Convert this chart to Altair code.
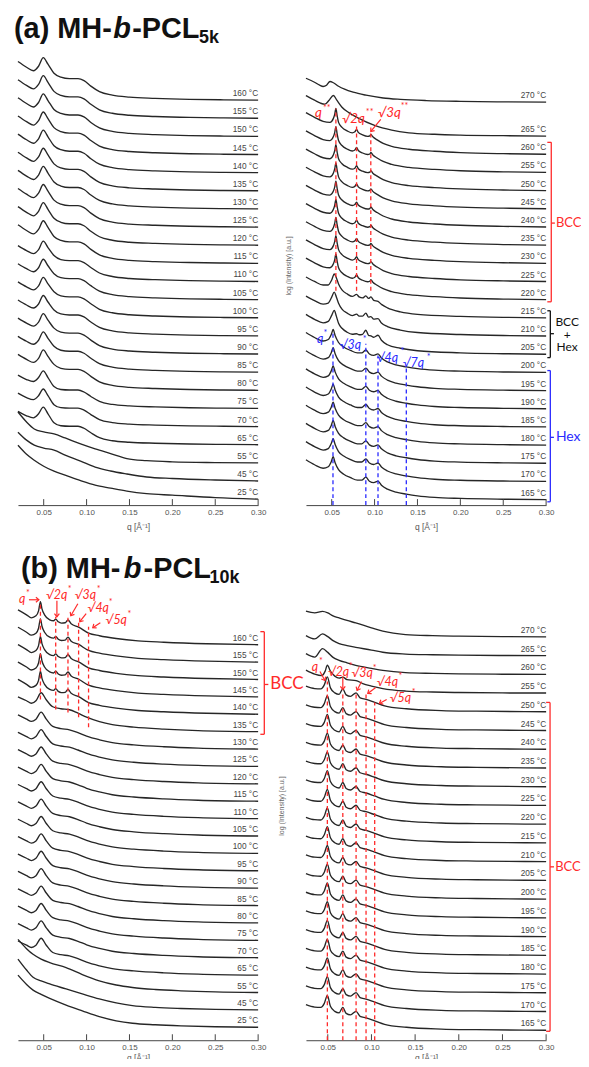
import altair as alt
import pandas as pd

# ======================= DATA =======================
TICKS = [0.05, 0.10, 0.15, 0.20, 0.25, 0.30]

# ---------- (a) MH-b-PCL5k, left panel ----------
AL_TEMPS = [160, 155, 150, 145, 140, 135, 130, 125, 120, 115, 110, 105, 100, 95, 90, 85, 80, 75, 70, 65, 55, 45, 25]
AL_SHAPE = ["hi"] * 10 + ["mid"] * 7 + ["lo"] * 3 + ["m55", "m45", "m25"]
AL_Q = [0.02, 0.03, 0.038, 0.044, 0.0495, 0.055, 0.062, 0.07, 0.08, 0.09, 0.097, 0.105, 0.115, 0.13, 0.15, 0.18, 0.22, 0.26, 0.30]
AL_H_HI = [38.7, 33, 29.5, 34, 42.7, 36, 27, 23, 21.5, 21.5, 19.5, 14, 8.5, 5, 3, 1.8, 0.8, 0.3, 0]
AL_H_MID = [36, 31, 28, 32, 40.5, 34, 26, 22, 21, 21, 19, 14, 8.5, 5, 3, 1.8, 0.8, 0.3, 0]
AL_H_LO = [33.5, 29, 27, 31, 37.7, 31, 22, 19, 18.5, 18.5, 16.5, 12, 7, 4, 2.5, 1.5, 0.7, 0.3, 0]
AL_QM = [0.02, 0.03, 0.039, 0.05, 0.062, 0.075, 0.093, 0.11, 0.128, 0.147, 0.17, 0.2, 0.25, 0.30]
AL_H_55 = [51, 41, 34, 31, 29, 25, 19, 14, 9.3, 4.3, 2.2, 1, 0.3, 0]
AL_H_45 = [49, 41, 36, 33, 31, 26, 20, 14, 10, 7, 4, 2.5, 1, 0]
AL_H_25 = [54, 45, 39, 33, 28, 24, 18.5, 14, 11, 8, 5.5, 4, 1.5, 0]

# ---------- (a) right panel ----------
AR_TEMPS = [270, 265, 260, 255, 250, 245, 240, 235, 230, 225, 220, 215, 210, 205, 200, 195, 190, 185, 180, 175, 170, 165]
AR_SHAPE = ["r270", "r265"] + ["bcc"] * 9 + ["m215", "m210", "m205"] + ["hex"] * 8
AR_Q_270 = [0.02, 0.03, 0.036, 0.04, 0.044, 0.048, 0.052, 0.058, 0.065, 0.075, 0.09, 0.11, 0.13, 0.16, 0.2, 0.25, 0.3]
AR_H_270 = [24, 20, 17, 15.7, 17, 20.7, 19.5, 16, 13, 10, 7, 4.2, 2.8, 1.6, 0.8, 0.3, 0]
AR_Q_265 = [0.02, 0.03, 0.037, 0.042, 0.047, 0.052, 0.056, 0.062, 0.07, 0.08, 0.1, 0.12, 0.14, 0.17, 0.2, 0.25, 0.3]
AR_H_265 = [40.7, 36, 33, 32, 36, 40.7, 36, 29, 23.5, 18.5, 10.7, 6, 3.3, 1.8, 1, 0.4, 0]
AR_Q_BCC = [0.02, 0.03, 0.04, 0.048, 0.052, 0.0535, 0.0549, 0.0563, 0.058, 0.062, 0.068, 0.074, 0.077, 0.079, 0.081,
            0.086, 0.092, 0.0945, 0.0957, 0.098, 0.103, 0.11, 0.12, 0.14, 0.17, 0.2, 0.25, 0.3]
AR_H_BCC = [41.7, 37, 33, 32, 36, 40, 46, 39, 32, 27, 23.5, 21.5, 22.5, 25, 22,
            19.5, 18, 18.5, 20, 17.5, 14.5, 11, 8, 5, 3, 1.7, 0.6, 0]
AR_Q_MIX = [0.02, 0.03, 0.04, 0.046, 0.05, 0.053, 0.0555, 0.058, 0.062, 0.068, 0.074, 0.079, 0.082, 0.086, 0.0898,
            0.093, 0.0957, 0.099, 0.104, 0.108, 0.115, 0.13, 0.15, 0.2, 0.25, 0.3]
AR_H_215 = [41, 36.5, 33, 33, 38, 44, 40, 34, 28, 24, 21.5, 23.5, 21, 20, 22,
            19.5, 21, 17.5, 16.5, 13.5, 10, 6, 3.5, 1.5, 0.5, 0]
AR_H_210 = [40, 35.5, 32, 33, 39, 44, 39, 33, 27, 23, 20.5, 22, 20, 20, 23,
            19, 19.5, 17, 17.5, 13, 9.5, 6, 3.5, 1.5, 0.5, 0]
AR_H_205 = [40, 35, 31.5, 33, 39, 44, 38, 31, 26, 22, 20, 20.5, 19.5, 20, 24,
            19, 18.5, 17, 19, 14, 9.5, 6, 3.5, 1.4, 0.5, 0]
AR_Q_HEX = [0.02, 0.03, 0.04, 0.046, 0.0495, 0.0517, 0.054, 0.058, 0.064, 0.072, 0.08, 0.085, 0.0898, 0.094,
            0.099, 0.104, 0.108, 0.115, 0.125, 0.137, 0.15, 0.17, 0.2, 0.25, 0.3]
AR_H_HEX = [40, 35, 31.5, 33, 38, 43, 37, 30, 25.5, 22, 19.5, 19.5, 22.5, 18.5,
            17, 18.5, 14.5, 10.5, 7.5, 5.5, 3.8, 2.2, 1.2, 0.4, 0]

# ---------- (b) MH-b-PCL10k, left panel ----------
BL_TEMPS = [160, 155, 150, 145, 140, 135, 130, 125, 120, 115, 110, 105, 100, 95, 90, 85, 80, 75, 70, 65, 55, 45, 25]
BL_SHAPE = ["bcc"] * 5 + ["b135"] + ["norm"] * 14 + ["m55", "m45", "m25"]
BL_Q_BCC = [0.02, 0.03, 0.0357, 0.041, 0.044, 0.0462, 0.048, 0.051, 0.057, 0.0615, 0.064, 0.067, 0.0706, 0.075,
            0.0783, 0.082, 0.0907, 0.1023, 0.115, 0.1345, 0.16, 0.19, 0.24, 0.3]
BL_H_BCC = [35, 30, 27, 29, 34, 43.3, 36, 30, 25, 24, 25.7, 23, 21.7, 22,
            25, 21, 17.7, 11.7, 9, 6.2, 3.8, 2.5, 1, 0]
BL_Q_N = [0.02, 0.03, 0.0357, 0.041, 0.047, 0.053, 0.0606, 0.07, 0.08, 0.09, 0.1, 0.115, 0.13, 0.155, 0.19, 0.23, 0.3]
BL_H_135 = [35, 31, 28.5, 31, 39, 32, 25, 23, 22, 18.5, 14.5, 10, 7, 4.5, 2.5, 1, 0]
BL_H_N = [34.3, 30, 27.7, 30, 37, 30, 22.7, 20.5, 19.3, 16.5, 13, 9.3, 6.5, 4.2, 2.3, 1, 0]
BL_QM = [0.02, 0.03, 0.0376, 0.047, 0.057, 0.0761, 0.095, 0.1148, 0.1345, 0.1535, 0.18, 0.21, 0.25, 0.30]
BL_H_55 = [53.3, 44, 38.3, 33.5, 30, 25, 18, 11.7, 7.5, 5, 3, 1.7, 0.6, 0]
BL_H_45 = [51, 40, 32.7, 29, 26, 21, 16, 11, 7, 4.3, 2.5, 1.4, 0.5, 0]
BL_H_25 = [52.3, 43, 37.3, 33, 29, 22.3, 16.5, 10.7, 6.5, 4, 2.5, 1.4, 0.5, 0]

# ---------- (b) right panel ----------
BR_TEMPS = [270, 265, 260, 255, 250, 245, 240, 235, 230, 225, 220, 215, 210, 205, 200, 195, 190, 185, 180, 175, 170, 165]
BR_SHAPE = ["r270", "r265", "r260", "r255"] + ["bcc"] * 18
BR_Q_HI = [0.025, 0.035, 0.044, 0.05, 0.056, 0.063, 0.072, 0.082, 0.1, 0.113, 0.139, 0.17, 0.2, 0.25, 0.3]
BR_H_270 = [25.7, 24, 25.5, 24, 21, 19, 16.5, 14, 9, 5.7, 2.3, 1.2, 0.7, 0.2, 0]
BR_H_265 = [20, 16.7, 21.7, 19, 15, 12, 10, 8.3, 5.5, 3.3, 1.5, 0.8, 0.4, 0.1, 0]
BR_H_260 = [20.7, 17.3, 25.7, 22, 17, 14, 11.5, 9, 6, 4, 1.7, 0.9, 0.4, 0.1, 0]
BR_Q_255 = [0.025, 0.035, 0.043, 0.047, 0.0495, 0.053, 0.058, 0.063, 0.0672, 0.072, 0.0824, 0.09, 0.1, 0.113, 0.139, 0.17, 0.2, 0.25, 0.3]
BR_H_255 = [23, 19, 17.5, 22, 28, 22, 17, 15, 16, 13.5, 12.5, 9.5, 7, 4.5, 2, 1, 0.5, 0.1, 0]
BR_Q_BCC = [0.025, 0.035, 0.042, 0.046, 0.0495, 0.053, 0.058, 0.063, 0.0672, 0.071, 0.076, 0.0824, 0.087, 0.0938,
            0.1037, 0.115, 0.14, 0.18, 0.22, 0.3]
BR_H_BCC = [25.7, 23.3, 23, 27, 35, 24, 19, 17.5, 23, 17, 15.5, 19, 14, 12.5,
            9.5, 6, 3, 1.2, 0.6, 0]

# ---------- annotations (q in Å^-1, height in a.u.) ----------
AR_RED_LINES_Q = [0.0549, 0.079, 0.0956]
AR_RED_LINES_TOP = [398, 380, 375]
AR_RED_LINES_BOT = [215, 215, 215]
AR_BLUE_LINES_Q = [0.0515, 0.0898, 0.104, 0.137]
AR_BLUE_LINES_TOP = [173, 162, 150, 138]
AR_RED_TXT = ["q", "√2q", "√3q"]
AR_RED_TXT_Q = [0.0305, 0.0619, 0.1037]
AR_RED_TXT_Y = [389, 383, 389]
AR_RED_SUP_Q = [0.0398, 0.0898, 0.1305]
AR_RED_SUP_Y = [395, 391, 397]
AR_RED_SUP = ["**", "**", "**"]
AR_BLUE_TXT = ["q", "√3q", "√4q", "√7q"]
AR_BLUE_TXT_Q = [0.0328, 0.0595, 0.1026, 0.1328]
AR_BLUE_TXT_Y = [163, 157, 144, 139]
AR_BLUE_SUP_Q = [0.0404, 0.0863, 0.1305, 0.1607]
AR_BLUE_SUP_Y = [170, 164, 152, 146]
AR_ARROW = [(0.1072, 387, 0.0956, 375, 220)]

BL_LINES_Q = [0.0462, 0.064, 0.0783, 0.0907, 0.1023]
BL_LINES_TOP = [439, 425, 424, 419, 415]
BL_LINES_BOT = [342, 332, 329, 324, 314]
BL_TXT = ["q", "√2q", "√3q", "√4q", "√5q"]
BL_TXT_Q = [0.0212, 0.0526, 0.0863, 0.1012, 0.1222]
BL_TXT_Y = [439, 443, 443, 430, 418]
BL_SUP_Q = [0.0293, 0.0781, 0.1119, 0.1257, 0.1477]
BL_SUP_Y = [446, 450, 450, 437, 425]
BL_ARROW = [  # q_from, y_from, q_to, y_to, angle
    (0.0328, 442, 0.0444, 442, 90),
    (0.0654, 441, 0.0654, 425, 180),
    (0.0898, 438, 0.0816, 426, 210),
    (0.0995, 428, 0.0921, 420, 217),
    (0.1160, 419, 0.1072, 414, 235),
]

BR_LINES_Q = [0.0495, 0.0672, 0.0824, 0.0938, 0.1037]
BR_LINES_TOP = [360, 350, 350, 349, 339]
BR_TXT = ["q", "√2q", "√3q", "√4q", "√5q"]
BR_TXT_Q = [0.0315, 0.0501, 0.0772, 0.1060, 0.1209]
BR_TXT_Y = [371, 366, 364, 355, 339]
BR_SUP_Q = [0.0398, 0.0741, 0.1015, 0.1311, 0.1460]
BR_SUP_Y = [378, 373, 371, 362, 346]
BR_ARROW = [
    (0.0410, 370, 0.0467, 361, 151),
    (0.0672, 365, 0.0672, 352, 180),
    (0.0886, 360, 0.0835, 351, 206),
    (0.1049, 354, 0.0958, 348, 233),
    (0.1174, 342, 0.1091, 338, 241),
]

# ======================= LAYOUT / STYLE =======================
W = 241
H_A, H_B = 460, 452
DOM_A = [0.02, 0.30]
DOM_BR = [0.025, 0.30]
RED, BLUE, BLACK = "#ff2a2a", "#2a2aff", "#111111"
CURVE = "#262626"
GRAY = "#555555"
ANN_FONT = "Lato"
AX_FONT = "Liberation Sans"

TEMPLATES = {
    "al": {"hi": (AL_Q, AL_H_HI), "mid": (AL_Q, AL_H_MID), "lo": (AL_Q, AL_H_LO),
           "m55": (AL_QM, AL_H_55), "m45": (AL_QM, AL_H_45), "m25": (AL_QM, AL_H_25)},
    "ar": {"r270": (AR_Q_270, AR_H_270), "r265": (AR_Q_265, AR_H_265), "bcc": (AR_Q_BCC, AR_H_BCC),
           "m215": (AR_Q_MIX, AR_H_215), "m210": (AR_Q_MIX, AR_H_210), "m205": (AR_Q_MIX, AR_H_205),
           "hex": (AR_Q_HEX, AR_H_HEX)},
    "bl": {"bcc": (BL_Q_BCC, BL_H_BCC), "b135": (BL_Q_N, BL_H_135), "norm": (BL_Q_N, BL_H_N),
           "m55": (BL_QM, BL_H_55), "m45": (BL_QM, BL_H_45), "m25": (BL_QM, BL_H_25)},
    "br": {"r270": (BR_Q_HI, BR_H_270), "r265": (BR_Q_HI, BR_H_265), "r260": (BR_Q_HI, BR_H_260),
           "r255": (BR_Q_255, BR_H_255), "bcc": (BR_Q_BCC, BR_H_BCC)},
}


def stack(panel, temps, shapes, base, step, top_gap=0.0):
    rows, labels = [], []
    n = len(temps)
    for i, (t, s) in enumerate(zip(temps, shapes)):
        off = base + (n - 1 - i) * step + (top_gap if i == 0 else 0.0)
        qs, hs = TEMPLATES[panel][s]
        for q, h in zip(qs, hs):
            rows.append({"temp": t, "q": q, "y": off + h})
        labels.append({"q": 0.30, "y": off, "label": f"{t} °C"})
    return pd.DataFrame(rows), pd.DataFrame(labels)


def enc_x(dom, tpad, field="q"):
    return alt.X(field, type="quantitative",
                 scale=alt.Scale(domain=dom, nice=False, zero=False),
                 axis=alt.Axis(values=TICKS, format=".2f", labelFontSize=8, labelColor=GRAY,
                               labelFont=AX_FONT, labelFlush=False, labelOverlap=False,
                               domainColor="#444", domainWidth=1, ticks=False, grid=False,
                               title="q [Å⁻¹]", titleFont=AX_FONT, titleFontSize=8.5,
                               titleFontWeight="normal", titleColor=GRAY,
                               labelPadding=3, titlePadding=tpad))


def enc_y(h, field="y"):
    return alt.Y(field, type="quantitative", scale=alt.Scale(domain=[0, h], nice=False, zero=False), axis=None)


def panel(curves, labels, dom, h, tpad, extra=()):
    X = lambda f="q": enc_x(dom, tpad, f)
    Y = lambda f="y": enc_y(h, f)
    lines = alt.Chart(curves).mark_line(interpolate="monotone", color=CURVE, strokeWidth=1.35).encode(
        x=X(), y=Y(), detail="temp:N")
    labs = alt.Chart(labels).mark_text(align="right", baseline="alphabetic", fontSize=8.3, color="#444",
                                       font=AX_FONT, dy=-4).encode(x=X(), y=Y(), text="label:N")
    tdf = pd.DataFrame({"q": TICKS, "y": [0] * len(TICKS), "y2": [6] * len(TICKS)})
    ticks = alt.Chart(tdf).mark_rule(color="#444", strokeWidth=1).encode(x=X(), y=Y(), y2="y2")
    layers = [lines, labs, ticks]
    for fn in extra:
        layers += fn(X, Y)
    return alt.layer(*layers).properties(width=W, height=h)


def dashed(qs, tops, bots, color):
    def f(X, Y):
        df = pd.DataFrame({"q": qs, "y": bots, "y2": tops})
        return [alt.Chart(df).mark_rule(color=color, strokeDash=[4, 3], strokeWidth=1.3).encode(
            x=X(), y=Y(), y2="y2")]
    return f


def qlabels(txt, tq, ty, sup, sq, sy, color, fs=14, sfs=9):
    def f(X, Y):
        d1 = pd.DataFrame({"q": tq, "y": ty, "t": txt})
        d2 = pd.DataFrame({"q": sq, "y": sy, "t": sup})
        return [
            alt.Chart(d1).mark_text(align="left", baseline="alphabetic", fontSize=fs, color=color,
                                    font=ANN_FONT, fontStyle="italic").encode(x=X(), y=Y(), text="t:N"),
            alt.Chart(d2).mark_text(align="left", baseline="alphabetic", fontSize=sfs, color=color,
                                    font=ANN_FONT).encode(x=X(), y=Y(), text="t:N"),
        ]
    return f


CHEVRON = "M-0.9,1.1L0,0L0.9,1.1"


def arrows(spec, color):
    def f(X, Y):
        df = pd.DataFrame(spec, columns=["q", "y", "q2", "y2", "ang"])
        return [
            alt.Chart(df).mark_rule(color=color, strokeWidth=1.2).encode(x=X(), y=Y(), x2="q2", y2="y2"),
            alt.Chart(df).mark_point(shape=CHEVRON, filled=False, color=color, strokeWidth=1.2, size=30,
                                     opacity=1).encode(x=X("q2"), y=Y("y2"),
                                                       angle=alt.Angle("ang:Q", scale=None)),
        ]
    return f


def bracket(qv, qleft, qtick, ytop, ybot, ymid, color, texts):
    def f(X, Y):
        segs = pd.DataFrame({
            "q": [qv, qleft, qleft, qv],
            "q2": [qv, qv, qv, qtick],
            "y": [ytop, ytop, ybot, ymid],
            "y2": [ybot, ytop, ybot, ymid],
        })
        tdf = pd.DataFrame(texts, columns=["q", "y", "t", "fs", "al"])
        out = [alt.Chart(segs).mark_rule(color=color, strokeWidth=1.3).encode(x=X(), y=Y(), x2="q2", y2="y2")]
        for al in tdf["al"].unique():
            out.append(alt.Chart(tdf[tdf["al"] == al]).mark_text(align=al, baseline="middle", color=color,
                                                                   font=ANN_FONT).encode(
                x=X(), y=Y(), text="t:N", size=alt.Size("fs:Q", scale=None)))
        return out
    return f


def title(parts):
    def f(X, Y):
        df = pd.DataFrame(parts, columns=["q", "y", "t", "fs", "it"])
        out = []
        for it, style in [(False, "normal"), (True, "italic")]:
            sub = df[df["it"] == it]
            out.append(alt.Chart(sub).mark_text(align="left", baseline="alphabetic", fontWeight="bold",
                                                fontStyle=style, font=AX_FONT, color="#111").encode(
                x=X(), y=Y(), text="t:N", size=alt.Size("fs:Q", scale=None)))
        return out
    return f


def ytitle(q, y):
    def f(X, Y):
        df = pd.DataFrame({"q": [q], "y": [y], "t": ["log (Intensity) [a.u.]"]})
        return [alt.Chart(df).mark_text(angle=270, align="center", baseline="middle", fontSize=7,
                                        color="#666", font=AX_FONT).encode(x=X(), y=Y(), text="t:N")]
    return f


def page_frame(q1, y1, q2, y2):
    # invisible diagonal that fixes the overall drawing extent (page 9,9 -> 600,1075)
    def f(X, Y):
        df = pd.DataFrame({"q": [q1], "y": [y1], "q2": [q2], "y2": [y2]})
        return [alt.Chart(df).mark_rule(opacity=0, strokeWidth=1).encode(x=X(), y=Y(), x2="q2", y2="y2")]
    return f


# ---------- build panels ----------
al_c, al_l = stack("al", AL_TEMPS, AL_SHAPE, base=6, step=18.2)
ar_c, ar_l = stack("ar", AR_TEMPS, AR_SHAPE, base=5.5, step=18.24, top_gap=15.8)
bl_c, bl_l = stack("bl", BL_TEMPS, BL_SHAPE, base=13, step=17.45)
br_c, br_l = stack("br", BR_TEMPS, BR_SHAPE, base=10, step=18.8)

aL = panel(al_c, al_l, DOM_A, H_A, 6, extra=[
    page_frame(0.010705, 496, 0.69736, -570),
    title([(0.01535, 468.3, "(a) MH-", 29, False), (0.1311, 468.3, "b", 29, True),
           (0.1531, 468.3, "-PCL", 29, False), (0.2311, 463.5, "5k", 18, False)]),
])

aR = panel(ar_c, ar_l, DOM_A, H_A, 6, extra=[
    dashed(AR_RED_LINES_Q, AR_RED_LINES_TOP, AR_RED_LINES_BOT, RED),
    dashed(AR_BLUE_LINES_Q, AR_BLUE_LINES_TOP, [0] * 4, BLUE),
    qlabels(AR_RED_TXT, AR_RED_TXT_Q, AR_RED_TXT_Y, AR_RED_SUP, AR_RED_SUP_Q, AR_RED_SUP_Y, RED, fs=13.5),
    qlabels(AR_BLUE_TXT, AR_BLUE_TXT_Q, AR_BLUE_TXT_Y, ["*"] * 4, AR_BLUE_SUP_Q, AR_BLUE_SUP_Y, BLUE, fs=12.5),
    arrows(AR_ARROW, RED),
    bracket(0.3060, 0.3014, 0.3102, 364, 204, 283, RED, [(0.3114, 283, "BCC", 13, "left")]),
    bracket(0.3049, 0.3014, 0.3091, 195, 148, 172, BLACK,
            [(0.3245, 183.5, "BCC", 12, "center"), (0.3245, 171, "+", 12, "center"),
             (0.3245, 158.5, "Hex", 12, "center")]),
    bracket(0.3049, 0.3014, 0.3091, 135, 3.3, 68, BLUE, [(0.3114, 68, "Hex", 14, "left")]),
    ytitle(0.0002, 240),
])

bL = panel(bl_c, bl_l, DOM_A, H_B, 2, extra=[
    title([(0.0235, 463.7, "(b) MH-", 29, False), (0.1433, 463.7, "b", 29, True),
           (0.1665, 463.7, "-PCL", 29, False), (0.2433, 459, "10k", 18, False)]),
    dashed(BL_LINES_Q, BL_LINES_TOP, BL_LINES_BOT, RED),
    qlabels(BL_TXT, BL_TXT_Q, BL_TXT_Y, ["*"] * 5, BL_SUP_Q, BL_SUP_Y, RED, fs=12.5),
    arrows(BL_ARROW, RED),
    bracket(0.3072, 0.3026, 0.3119, 410, 307, 357, RED, [(0.3142, 357, "BCC", 17, "left")]),
])

bR = panel(br_c, br_l, DOM_BR, H_B, 2, extra=[
    dashed(BR_LINES_Q, BR_LINES_TOP, [0] * 5, RED),
    qlabels(BR_TXT, BR_TXT_Q, BR_TXT_Y, ["*"] * 5, BR_SUP_Q, BR_SUP_Y, RED, fs=12.5),
    arrows(BR_ARROW, RED),
    bracket(0.3045, 0.3000, 0.3090, 339, 9, 174, RED, [(0.3104, 174, "BCC", 13, "left")]),
    ytitle(-0.0024, 235),
])

# negative right/bottom padding: the figure is cut at the window edge, as in the reference
chart = alt.concat(aL, aR, bL, bR, columns=2, spacing={"row": 85, "column": 48}, bounds="flush").properties(
    padding={"left": 1, "top": 1, "right": -19, "bottom": -16}
).configure_view(stroke=None)

chart.save("out.html", embed_options={"renderer": "svg", "actions": False})
